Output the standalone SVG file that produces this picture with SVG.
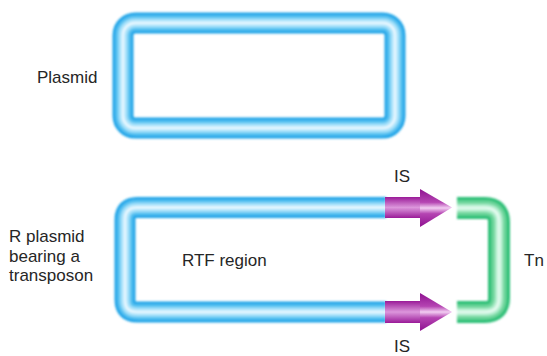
<svg xmlns="http://www.w3.org/2000/svg" width="547" height="356" viewBox="0 0 547 356">
  <defs>
    <style>
      .lbl { font-family: "Liberation Sans", Arial, sans-serif; font-size: 17px; fill: #262626; }
      .t1 { fill: none; stroke: #22a6e8; stroke-width: 21; }
      .t2 { fill: none; stroke: #5cc4f2; stroke-width: 15; }
      .t3 { fill: none; stroke: #a8e2fa; stroke-width: 9; }
      .t4 { fill: none; stroke: #e6f7ff; stroke-width: 3; }
      .g1 { fill: none; stroke: #2fc078; stroke-width: 22; }
      .g2 { fill: none; stroke: #6ed69c; stroke-width: 15; }
      .g3 { fill: none; stroke: #aeeccb; stroke-width: 8; }
      .g4 { fill: none; stroke: #e4fbef; stroke-width: 3; }
      .tube { filter: url(#soft); }
    </style>
    <filter id="soft" filterUnits="userSpaceOnUse" x="0" y="0" width="547" height="356">
      <feGaussianBlur stdDeviation="0.9"/>
    </filter>
    <linearGradient id="isShaft" x1="0" y1="0" x2="0" y2="1">
      <stop offset="0" stop-color="#9a1a98"/>
      <stop offset="0.5" stop-color="#dc96dc"/>
      <stop offset="1" stop-color="#9a1a98"/>
    </linearGradient>
    <linearGradient id="isHead" x1="0" y1="0" x2="0" y2="1">
      <stop offset="0" stop-color="#8e1190"/>
      <stop offset="0.35" stop-color="#b544b2"/>
      <stop offset="0.5" stop-color="#f2cdf2"/>
      <stop offset="0.65" stop-color="#b544b2"/>
      <stop offset="1" stop-color="#8e1190"/>
    </linearGradient>
  </defs>

  <!-- plain plasmid -->
  <g id="plasmid">
    <g class="tube">
      <rect class="t1" x="123" y="23" width="272" height="105" rx="12"/>
      <rect class="t2" x="123" y="23" width="272" height="105" rx="12"/>
      <rect class="t3" x="123" y="23" width="272" height="105" rx="12"/>
      <rect class="t4" x="123" y="23" width="272" height="105" rx="12"/>
    </g>
    <text class="lbl" x="37" y="83">Plasmid</text>
  </g>

  <!-- R plasmid backbone (RTF region) -->
  <g id="rtf">
    <g class="tube">
      <path class="t1" d="M386,207.5 H137 Q125,207.5 125,219.5 V300 Q125,312 137,312 H386"/>
      <path class="t2" d="M386,207.5 H137 Q125,207.5 125,219.5 V300 Q125,312 137,312 H386"/>
      <path class="t3" d="M386,207.5 H137 Q125,207.5 125,219.5 V300 Q125,312 137,312 H386"/>
      <path class="t4" d="M386,207.5 H137 Q125,207.5 125,219.5 V300 Q125,312 137,312 H386"/>
    </g>
    <text class="lbl" x="182" y="266">RTF region</text>
    <text class="lbl" x="9" y="242">R plasmid</text>
    <text class="lbl" x="9" y="262">bearing a</text>
    <text class="lbl" x="9" y="281">transposon</text>
  </g>

  <!-- insertion sequences -->
  <g id="is-top">
    <rect x="385" y="197" width="36" height="21" fill="url(#isShaft)"/>
    <polygon points="420,189 452,207.5 420,227" fill="url(#isHead)"/>
    <text class="lbl" x="394" y="182">IS</text>
  </g>
  <g id="is-bottom">
    <rect x="385" y="301" width="36" height="22" fill="url(#isShaft)"/>
    <polygon points="420,293 452,312 420,331" fill="url(#isHead)"/>
    <text class="lbl" x="394" y="352">IS</text>
  </g>

  <!-- transposon bridge -->
  <g id="tn">
    <g class="tube">
      <path class="g1" d="M457,208 H485 Q499,208 499,222 V298 Q499,312 485,312 H457"/>
      <path class="g2" d="M457,208 H485 Q499,208 499,222 V298 Q499,312 485,312 H457"/>
      <path class="g3" d="M457,208 H485 Q499,208 499,222 V298 Q499,312 485,312 H457"/>
      <path class="g4" d="M457,208 H485 Q499,208 499,222 V298 Q499,312 485,312 H457"/>
    </g>
    <text class="lbl" x="524" y="266">Tn</text>
  </g>

  <g id="connectors"/>
</svg>
